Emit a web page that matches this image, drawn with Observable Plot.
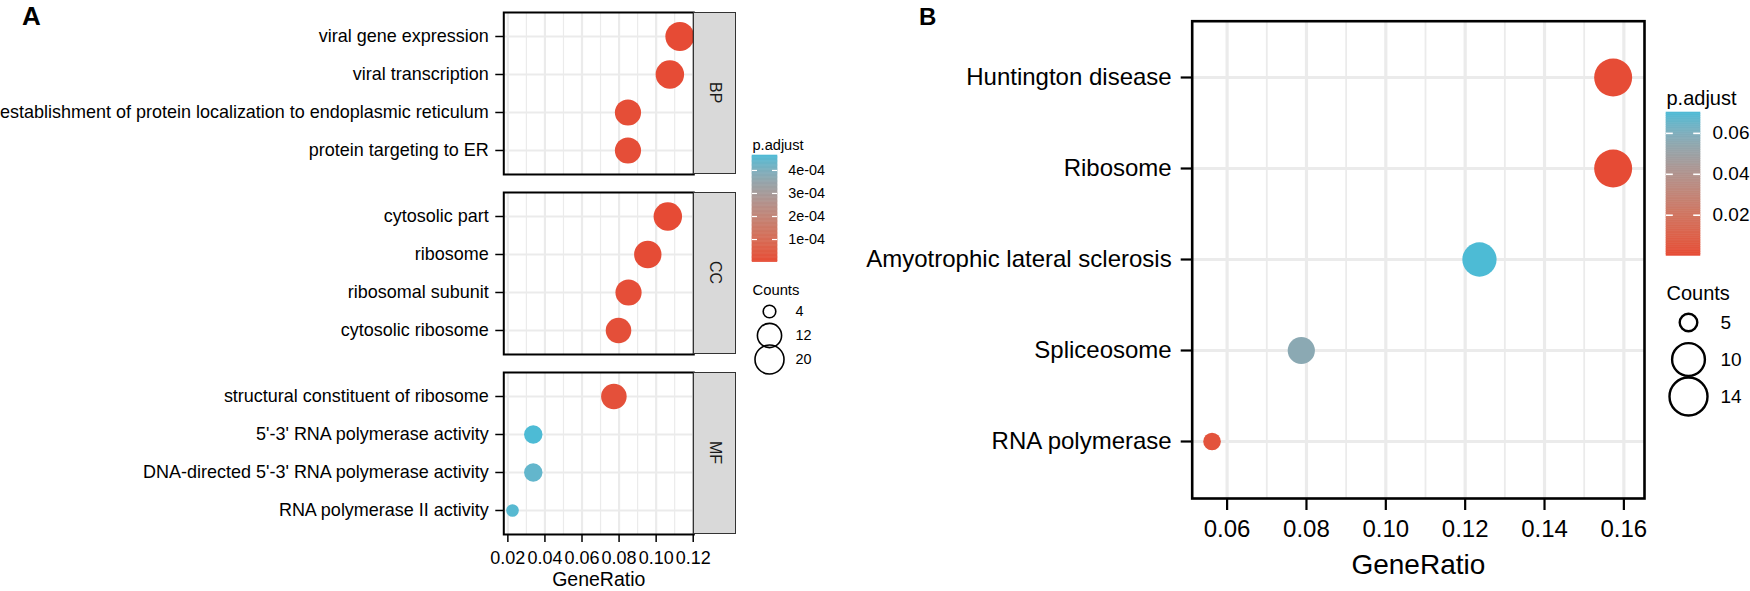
<!DOCTYPE html>
<html><head><meta charset="utf-8">
<script src="https://cdn.jsdelivr.net/npm/d3@7"></script>
<script src="https://cdn.jsdelivr.net/npm/@observablehq/plot@0.6"></script>
<style>
html,body{margin:0;padding:0;background:#fff;}
#root{position:relative;width:1750px;height:591px;overflow:hidden;font-family:"Liberation Sans",Arial,Helvetica,sans-serif;color:#000;}
#root svg{position:absolute;overflow:visible;background:transparent;}
.strip{position:absolute;background:#D9D9D9;border:1.5px solid #333;box-sizing:border-box;display:flex;align-items:center;justify-content:center;writing-mode:vertical-rl;font-size:16px;color:#1a1a1a;}
.tag{position:absolute;font-weight:bold;line-height:1.1;}
</style></head><body><div id="root"></div>
<script>
// ---------- Panel A data (GO) ----------
const ontologies = ["BP", "CC", "MF"];
const bpTerms = ["viral gene expression", "viral transcription", "establishment of protein localization to endoplasmic reticulum", "protein targeting to ER"];
const bpRatio = [0.1128, 0.1074, 0.0848, 0.0848];
const bpCount = [20, 19, 15, 15];
const bpPadj  = [1.5e-6, 3e-6, 8e-6, 9e-6];

const ccTerms = ["cytosolic part", "ribosome", "ribosomal subunit", "cytosolic ribosome"];
const ccRatio = [0.1063, 0.0955, 0.0851, 0.0797];
const ccCount = [19, 17, 15, 14];
const ccPadj  = [2e-6, 5e-6, 1e-5, 1.2e-5];

const mfTerms = ["structural constituent of ribosome", "5'-3' RNA polymerase activity", "DNA-directed 5'-3' RNA polymerase activity", "RNA polymerase II activity"];
const mfRatio = [0.0772, 0.0337, 0.0337, 0.0225];
const mfCount = [14, 6, 6, 4];
const mfPadj  = [1.5e-5, 4.65e-4, 4.4e-4, 4.55e-4];

const xTicksA = [0.02, 0.04, 0.06, 0.08, 0.10, 0.12];
const xMinorA = [0.03, 0.05, 0.07, 0.09, 0.11];
const padjTicksA = [1e-4, 2e-4, 3e-4, 4e-4];
const padjLabelsA = ["1e-04", "2e-04", "3e-04", "4e-04"];
const countBreaksA = [4, 12, 20];

// ---------- Panel B data (KEGG) ----------
const keggTerms = ["Huntington disease", "Ribosome", "Amyotrophic lateral sclerosis", "Spliceosome", "RNA polymerase"];
const keggRatio = [0.1573, 0.1573, 0.1236, 0.0787, 0.0562];
const keggCount = [14, 14, 11, 7, 5];
const keggPadj  = [4.5e-4, 1.8e-4, 0.0702, 0.056, 0.0032];

const xTicksB = [0.06, 0.08, 0.10, 0.12, 0.14, 0.16];
const xMinorB = [0.07, 0.09, 0.11, 0.13, 0.15];
const padjTicksB = [0.02, 0.04, 0.06];
const padjLabelsB = ["0.02", "0.04", "0.06"];
const countBreaksB = [5, 10, 14];

const LOW = "#E64B35", HIGH = "#4DBBD5";
const GRID = "#EBEBEB";
const FONT = "'Liberation Sans', Arial, Helvetica, sans-serif";
const root = document.getElementById("root");

function place(svg, left, top) {
  svg.style.left = left + "px";
  svg.style.top = top + "px";
  root.appendChild(svg);
}

// ---------- Panel A ----------
const allPadjA = [...bpPadj, ...ccPadj, ...mfPadj];
const allCountA = [...bpCount, ...ccCount, ...mfCount];
const padjDomA = d3.extent(allPadjA);
const minCountA = d3.min(allCountA), maxCountA = d3.max(allCountA);
const rScaleA = {type: "sqrt", domain: [0, maxCountA - minCountA], range: [6.3, 14.5]};
const colorA = {type: "linear", domain: padjDomA, range: [LOW, HIGH], interpolate: "lab"};

const facetSets = [
  {terms: bpTerms, ratio: bpRatio, count: bpCount, padj: bpPadj, top: 11.7},
  {terms: ccTerms, ratio: ccRatio, count: ccCount, padj: ccPadj, top: 191.6},
  {terms: mfTerms, ratio: mfRatio, count: mfCount, padj: mfPadj, top: 371.5}
];
const frameLeftA = 503.3, frameRightA = 693.3, frameHA = 162;

facetSets.forEach((f, k) => {
  const data = f.terms.map((t, i) => ({term: t, ratio: f.ratio[i], count: f.count[i], padj: f.padj[i]}));
  const last = k === facetSets.length - 1;
  const mt = 4, mb = last ? 55 : 4;
  const marks = [
    Plot.ruleX(xMinorA, {stroke: GRID, strokeWidth: 1.2}),
    Plot.ruleX(xTicksA, {stroke: GRID, strokeWidth: 2.2}),
    Plot.ruleY(f.terms, {stroke: GRID, strokeWidth: 2.2}),
    Plot.dot(data, {x: "ratio", y: "term", r: d => d.count - minCountA, fill: "padj", clip: true}),
    Plot.axisY({tickSize: 8, tickPadding: 7, fontSize: 18, stroke: "black", strokeWidth: 1.5, label: null}),
    Plot.frame({stroke: "black", strokeWidth: 2})
  ];
  if (last) {
    marks.push(Plot.axisX({ticks: xTicksA, tickFormat: d3.format(".2f"), tickSize: 8, tickPadding: 9, fontSize: 18, stroke: "black", strokeWidth: 1.5, label: null}));
    marks.push(Plot.text(["GeneRatio"], {frameAnchor: "bottom", dy: 45.5, lineAnchor: "middle", fontSize: 19.5}));
  }
  const svg = Plot.plot({
    width: frameRightA + 4, height: mt + frameHA + mb,
    marginLeft: frameLeftA, marginRight: 4, marginTop: mt, marginBottom: mb,
    style: {fontFamily: FONT, color: "black", background: "transparent", overflow: "visible"},
    x: {domain: [0.0178, 0.1203], axis: null},
    y: {domain: f.terms, padding: 0.6, axis: null},
    r: rScaleA,
    color: colorA,
    marks
  });
  place(svg, 0, f.top - mt);
  const strip = document.createElement("div");
  strip.className = "strip";
  strip.style.left = frameRightA + "px";
  strip.style.top = f.top + "px";
  strip.style.width = "43px";
  strip.style.height = frameHA + "px";
  strip.textContent = ontologies[k];
  root.appendChild(strip);
});

// ---------- Legends ----------
function colorbar(o) {
  const n = 80;
  const edges = d3.range(n + 1).map(i => o.domain[0] + (o.domain[1] - o.domain[0]) * i / n);
  const slices = d3.pairs(edges);
  const mt = 30, ml = 2, mr = 80;
  const svg = Plot.plot({
    width: ml + o.barW + mr, height: mt + o.barH + 2,
    marginLeft: ml, marginRight: mr, marginTop: mt, marginBottom: 2,
    style: {fontFamily: FONT, color: "black", background: "transparent", overflow: "visible"},
    x: {domain: [0, 1], axis: null},
    y: {domain: o.domain, axis: null},
    color: {type: "linear", domain: o.domain, range: [LOW, HIGH], interpolate: "lab"},
    marks: [
      Plot.rect(slices, {x1: 0, x2: 1, y1: d => d[0], y2: d => d[1], fill: d => (d[0] + d[1]) / 2, stroke: d => (d[0] + d[1]) / 2, strokeWidth: 0.6}),
      Plot.ruleY(o.ticks, {x1: 0, x2: 0.2, stroke: "white", strokeWidth: o.tickW}),
      Plot.ruleY(o.ticks, {x1: 0.8, x2: 1, stroke: "white", strokeWidth: o.tickW}),
      Plot.text(o.ticks, {x: 1, y: d => d, text: (d, i) => o.labels[i], textAnchor: "start", dx: o.labelDx, fontSize: o.labelSize}),
      Plot.text([o.title], {frameAnchor: "top-left", dy: -o.titleDy, textAnchor: "start", lineAnchor: "middle", fontSize: o.titleSize})
    ]
  });
  place(svg, o.left - ml, o.top - mt);
}

function sizeLegend(o) {
  const svg = Plot.plot({
    width: 120, height: 150,
    marginLeft: o.cx - o.left, marginRight: 10, marginTop: o.titleY - o.top, marginBottom: 10,
    style: {fontFamily: FONT, color: "black", background: "transparent", overflow: "visible"},
    x: {domain: [0, 1], range: [o.cx - o.left, o.cx - o.left + 40], axis: null},
    y: {type: "point", domain: o.breaks, range: [o.y0 - o.top, o.y1 - o.top], padding: 0, axis: null},
    r: o.rScale,
    marks: [
      Plot.dot(o.breaks, {x: 0, y: d => d, r: d => d - o.minCount, fill: "none", stroke: "black", strokeWidth: o.strokeW}),
      Plot.text(o.breaks, {x: 0, y: d => d, text: d => String(d), dx: o.labelX - o.cx, textAnchor: "start", fontSize: o.labelSize}),
      Plot.text([o.title], {frameAnchor: "top-left", dx: o.titleX - o.cx, textAnchor: "start", lineAnchor: "middle", fontSize: o.titleSize})
    ]
  });
  place(svg, o.left, o.top);
}

colorbar({left: 752.3, top: 155, barW: 25, barH: 106.7, domain: padjDomA, ticks: padjTicksA, labels: padjLabelsA,
  title: "p.adjust", titleSize: 14.6, labelSize: 14.4, labelDx: 10.7, titleDy: 10, tickW: 1.2});
sizeLegend({left: 740, top: 270, cx: 769, titleX: 752, titleY: 290, y0: 310.7, y1: 360, labelX: 795,
  breaks: countBreaksA, rScale: rScaleA, minCount: minCountA, title: "Counts", titleSize: 14.8, labelSize: 14.4, strokeW: 1.6});

// ---------- Panel B ----------
const padjDomB = d3.extent(keggPadj);
const minCountB = d3.min(keggCount), maxCountB = d3.max(keggCount);
const rScaleB = {type: "sqrt", domain: [0, maxCountB - minCountB], range: [8.8, 19]};
const dataB = keggTerms.map((t, i) => ({term: t, ratio: keggRatio[i], count: keggCount[i], padj: keggPadj[i]}));
const bLeft = 840, frameLeftB = 1191.7, frameRightB = 1644, frameTopB = 20.7, frameBottomB = 498;
const svgB = Plot.plot({
  width: frameRightB - bLeft + 6, height: 588,
  marginLeft: frameLeftB - bLeft, marginRight: 6, marginTop: frameTopB, marginBottom: 588 - frameBottomB,
  style: {fontFamily: FONT, color: "black", background: "transparent", overflow: "visible"},
  x: {domain: [0.0512, 0.1652], axis: null},
  y: {domain: keggTerms, padding: 0.6, axis: null},
  r: rScaleB,
  color: {type: "linear", domain: padjDomB, range: [LOW, HIGH], interpolate: "lab"},
  marks: [
    Plot.ruleX(xMinorB, {stroke: GRID, strokeWidth: 1.8}),
    Plot.ruleX(xTicksB, {stroke: GRID, strokeWidth: 3.2}),
    Plot.ruleY(keggTerms, {stroke: GRID, strokeWidth: 3.2}),
    Plot.dot(dataB, {x: "ratio", y: "term", r: d => d.count - minCountB, fill: "padj", clip: true}),
    Plot.axisY({tickSize: 11, tickPadding: 9.5, fontSize: 24, stroke: "black", strokeWidth: 2.2, label: null}),
    Plot.axisX({ticks: xTicksB, tickFormat: d3.format(".2f"), tickSize: 12, tickPadding: 9.6, fontSize: 24, stroke: "black", strokeWidth: 2.2, label: null}),
    Plot.text(["GeneRatio"], {frameAnchor: "bottom", dy: 67, lineAnchor: "middle", fontSize: 28}),
    Plot.frame({stroke: "black", strokeWidth: 2.6})
  ]
});
place(svgB, bLeft, 0);

colorbar({left: 1666, top: 111.7, barW: 34, barH: 143.3, domain: padjDomB, ticks: padjTicksB, labels: padjLabelsB,
  title: "p.adjust", titleSize: 20, labelSize: 19, labelDx: 12, titleDy: 14, tickW: 1.6});
sizeLegend({left: 1650, top: 270, cx: 1688, titleX: 1666, titleY: 293, y0: 321, y1: 396, labelX: 1720,
  breaks: countBreaksB, rScale: rScaleB, minCount: minCountB, title: "Counts", titleSize: 20, labelSize: 19, strokeW: 2.4});

// ---------- Panel tags ----------
[["A", 22, 2, 26], ["B", 919, 4, 24]].forEach(([t, x, y, s]) => {
  const d = document.createElement("div");
  d.className = "tag";
  d.style.left = x + "px"; d.style.top = y + "px"; d.style.fontSize = s + "px";
  d.textContent = t;
  root.appendChild(d);
});
</script>
</body></html>
